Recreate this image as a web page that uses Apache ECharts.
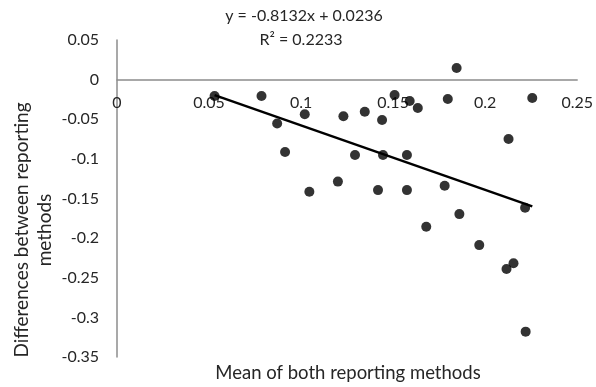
<!DOCTYPE html>
<html>
<head>
<meta charset="utf-8">
<script src="https://cdn.jsdelivr.net/npm/echarts@6/dist/echarts.min.js"></script>
<style>
html,body{margin:0;padding:0;background:#fff;}
#chart{width:596px;height:387px;}
</style>
</head>
<body>
<div id="chart"></div>
<script>
// Data
var meanValues = [0.053, 0.0785, 0.087, 0.0913, 0.102, 0.1045, 0.120, 0.123, 0.1293, 0.1346,
  0.1418, 0.144, 0.1445, 0.1508, 0.1575, 0.1575, 0.159, 0.1634, 0.168, 0.178,
  0.1797, 0.1845, 0.186, 0.1968, 0.2116, 0.2127, 0.2154, 0.2217, 0.222, 0.2256];
var diffValues = [-0.0207, -0.0207, -0.0554, -0.0914, -0.0438, -0.1415, -0.1287, -0.0463, -0.0952, -0.0405,
  -0.1394, -0.051, -0.0952, -0.0194, -0.0952, -0.1394, -0.027, -0.0359, -0.1857, -0.134,
  -0.0245, 0.0146, -0.1697, -0.2088, -0.239, -0.075, -0.2316, -0.1617, -0.318, -0.0232];
var trendSlope = -0.8132;
var trendIntercept = 0.0236;
var xTickLabels = ['0', '0.05', '0.1', '0.15', '0.2', '0.25'];
var yTickLabels = ['-0.35', '-0.3', '-0.25', '-0.2', '-0.15', '-0.1', '-0.05', '0', '0.05'];
var xTitle = 'Mean of both reporting methods';
var yTitle = 'Differences between reporting\nmethods';
var eqText = 'y = -0.8132x + 0.0236';
var r2Text = 'R\u00b2 = 0.2233';

var X_MIN = 0, X_MAX = 0.25, X_STEP = 0.05;
var Y_MIN = -0.35, Y_MAX = 0.05, Y_STEP = 0.05;

var points = meanValues.map(function (x, i) { return [x, diffValues[i]]; });
var xLo = Math.min.apply(null, meanValues), xHi = Math.max.apply(null, meanValues);
var trendData = [[xLo, trendSlope * xLo + trendIntercept], [xHi, trendSlope * xHi + trendIntercept]];

var W = 596, H = 387;
var G = {left: 117, right: 17, top: 40, bottom: 30};
var plotH = H - G.top - G.bottom;
// the x axis sits on y = 0, as in the reference
var zeroShift = plotH * (0 - Y_MIN) / (Y_MAX - Y_MIN);

var FONT = 'Lato';
var TXT = '#262626';
var chart = echarts.init(document.getElementById('chart'));
chart.setOption({
  animation: false,
  grid: {left: G.left, right: G.right, top: G.top, bottom: G.bottom, containLabel: false},
  xAxis: {
    type: 'value', min: X_MIN, max: X_MAX, interval: X_STEP,
    position: 'bottom', offset: -zeroShift,
    axisLine: {show: true, onZero: false, lineStyle: {color: '#8c8c8c', width: 1.5}},
    axisTick: {show: false},
    splitLine: {show: false},
    axisLabel: {
      margin: 15, color: TXT, fontFamily: FONT, fontSize: 16,
      showMinLabel: true, showMaxLabel: true,
      formatter: function (v) { return xTickLabels[Math.round((v - X_MIN) / X_STEP)]; }
    }
  },
  yAxis: {
    type: 'value', min: Y_MIN, max: Y_MAX, interval: Y_STEP,
    axisLine: {show: true, onZero: false, lineStyle: {color: '#8c8c8c', width: 1.5}},
    axisTick: {show: false},
    splitLine: {show: false},
    axisLabel: {
      margin: 18, color: TXT, fontFamily: FONT, fontSize: 16,
      showMinLabel: true, showMaxLabel: true,
      formatter: function (v) { return yTickLabels[Math.round((v - Y_MIN) / Y_STEP)]; }
    }
  },
  graphic: [
    {type: 'text', x: 304, y: 16, style: {text: eqText, fill: TXT, font: '16px ' + FONT, align: 'center', verticalAlign: 'middle'}},
    {type: 'text', x: 301, y: 40, style: {text: r2Text, fill: TXT, font: '16px ' + FONT, align: 'center', verticalAlign: 'middle'}},
    {type: 'text', x: 348, y: 373, style: {text: xTitle, fill: TXT, font: '18.5px ' + FONT, align: 'center', verticalAlign: 'middle'}},
    {type: 'text', x: 33, y: 230, rotation: Math.PI / 2, style: {text: yTitle, fill: TXT, font: '19px ' + FONT, align: 'center', verticalAlign: 'middle', lineHeight: 23}}
  ],
  series: [
    {
      type: 'scatter', data: points, symbol: 'circle', symbolSize: 10,
      itemStyle: {color: '#000'}, z: 3
    },
    {
      type: 'line', data: trendData, showSymbol: false, symbol: 'none',
      lineStyle: {color: '#000', width: 2.5}, z: 4, silent: true
    }
  ]
});
</script>
</body>
</html>
